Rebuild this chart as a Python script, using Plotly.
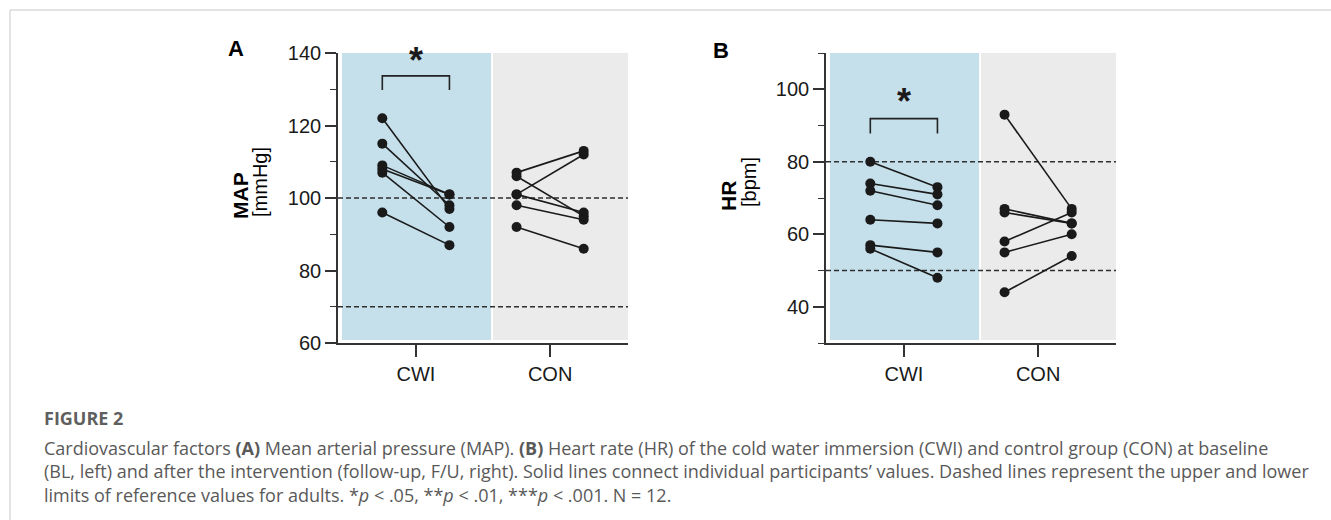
import plotly.graph_objects as go

# ---------------- data ----------------
groups = ["CWI", "CON"]
group_pos = [1, 2]
time_offsets = [-0.25, 0.25]          # BL (left), F/U (right)

map_cwi_bl = [122, 115, 109, 108, 107, 96]
map_cwi_fu = [97, 98, 101, 101, 92, 87]
map_con_bl = [107, 106, 101, 101, 98, 92]
map_con_fu = [113, 95, 112, 96, 94, 86]

hr_cwi_bl = [80, 74, 72, 64, 57, 56]
hr_cwi_fu = [73, 71, 68, 63, 55, 48]
hr_con_bl = [93, 67, 66, 58, 55, 44]
hr_con_fu = [67, 63, 63, 66, 60, 54]

map_ref = [100, 70]
hr_ref = [80, 50]

map_ticks = [60, 80, 100, 120, 140]
hr_ticks = [40, 60, 80, 100]

# ---------------- layout helpers ----------------
W, H = 1331, 520
FONT = "Liberation Sans, Arial, Helvetica, sans-serif"
CAP_FONT = "Open Sans, Noto Sans, sans-serif"
INK = "#1a1a1a"
BLUE = "#c5e0eb"
GREY = "#ebebeb"
XR = [0.42, 2.58]


def px(xp):
    return xp / W


def py(yp):
    return 1 - yp / H


fig = go.Figure()

panels = [
    dict(xa="x", ya="y", xref="x", yref="y",
         xdom=[px(338), px(628)], yrange=[60, 140], ticks=map_ticks,
         data=[(map_cwi_bl, map_cwi_fu), (map_con_bl, map_con_fu)],
         ref=map_ref, bracket=(129.8, 133.7), star=138.0,
         letter="A", letter_xy=(236, 48),
         title=("MAP", "[mmHg]"), title_x=(240, 260)),
    dict(xa="x2", ya="y2", xref="x2", yref="y2",
         xdom=[px(826), px(1116)], yrange=[30, 110], ticks=hr_ticks,
         data=[(hr_cwi_bl, hr_cwi_fu), (hr_con_bl, hr_con_fu)],
         ref=hr_ref, bracket=(87.8, 91.9), star=96.5,
         letter="B", letter_xy=(721, 51),
         title=("HR", "[bpm]"), title_x=(728, 749)),
]

shapes = []
annotations = []

for p in panels:
    y0, y1 = p["yrange"]
    ypad = (y1 - y0) * 3 / 290
    # shaded group backgrounds
    shapes.append(dict(type="rect", xref=p["xref"], yref=p["yref"],
                       x0=0.45, x1=1.56, y0=y0 + ypad, y1=y1,
                       fillcolor=BLUE, line=dict(width=0), layer="below"))
    shapes.append(dict(type="rect", xref=p["xref"], yref=p["yref"],
                       x0=1.575, x1=XR[1], y0=y0 + ypad, y1=y1,
                       fillcolor=GREY, line=dict(width=0), layer="below"))
    # reference dashed lines
    for r in p["ref"]:
        shapes.append(dict(type="line", xref=p["xref"], yref=p["yref"],
                           x0=XR[0], x1=XR[1], y0=r, y1=r,
                           line=dict(color="#2e2e2e", width=1.4, dash="5px,3px"),
                           layer="below"))
    # participant lines
    for gi, (bl, fu) in enumerate(p["data"]):
        xs = [group_pos[gi] + time_offsets[0], group_pos[gi] + time_offsets[1]]
        for a, b in zip(bl, fu):
            fig.add_trace(go.Scatter(
                x=xs, y=[a, b], mode="lines+markers",
                line=dict(color=INK, width=1.6),
                marker=dict(color=INK, size=10),
                xaxis=p["xa"], yaxis=p["ya"], showlegend=False,
                hoverinfo="skip"))
    # significance bracket (CWI)
    bx = [group_pos[0] + time_offsets[0], group_pos[0] + time_offsets[1]]
    lo, hi = p["bracket"]
    fig.add_trace(go.Scatter(
        x=[bx[0], bx[0], bx[1], bx[1]], y=[lo, hi, hi, lo], mode="lines",
        line=dict(color="#222222", width=1.6),
        xaxis=p["xa"], yaxis=p["ya"], showlegend=False, hoverinfo="skip"))
    annotations.append(dict(xref=p["xref"], yref=p["yref"], x=group_pos[0], y=p["star"],
                            text="<b>*</b>", showarrow=False,
                            font=dict(family=FONT, size=36, color=INK),
                            xanchor="center", yanchor="middle"))
    # panel letter
    lx, ly = p["letter_xy"]
    annotations.append(dict(xref="paper", yref="paper", x=px(lx), y=py(ly),
                            text="<b>%s</b>" % p["letter"], showarrow=False,
                            font=dict(family=FONT, size=22, color="#000000"),
                            xanchor="center", yanchor="middle"))
    # y-axis titles
    t1, t2 = p["title"]
    tx1, tx2 = p["title_x"]
    annotations.append(dict(xref="paper", yref="paper", x=px(tx1), y=py(196),
                            text="<b>%s</b>" % t1, showarrow=False, textangle=-90,
                            font=dict(family=FONT, size=21, color="#000000"),
                            xanchor="center", yanchor="middle"))
    annotations.append(dict(xref="paper", yref="paper", x=px(tx2), y=py(182),
                            text=t2, showarrow=False, textangle=-90,
                            font=dict(family=FONT, size=20, color="#000000"),
                            xanchor="center", yanchor="middle"))

axis_common = dict(showgrid=False, zeroline=False, showline=True,
                   linecolor="#333333", linewidth=1.6, ticks="outside",
                   tickcolor="#333333", tickwidth=1.6, automargin=False,
                   tickfont=dict(family=FONT, size=20, color=INK))

xdef = dict(axis_common, range=XR, tickvals=group_pos, ticktext=groups, ticklen=12)
ydom = [py(343), py(53)]

fig.update_layout(
    width=W, height=H, autosize=False,
    margin=dict(l=0, r=0, t=0, b=0, pad=0, autoexpand=False),
    paper_bgcolor="white", plot_bgcolor="white",
    xaxis=dict(xdef, domain=panels[0]["xdom"], anchor="y"),
    yaxis=dict(axis_common, domain=ydom, anchor="x", range=panels[0]["yrange"],
               tickvals=map_ticks, ticklen=11,
               minor=dict(dtick=10, ticks="outside", ticklen=6,
                          tickcolor="#333333", tickwidth=1.4)),
    xaxis2=dict(xdef, domain=panels[1]["xdom"], anchor="y2"),
    yaxis2=dict(axis_common, domain=ydom, anchor="x2", range=panels[1]["yrange"],
                tickvals=hr_ticks, ticklen=11,
                minor=dict(tick0=30, dtick=10, ticks="outside", ticklen=6,
                           tickcolor="#333333", tickwidth=1.4)),
    showlegend=False,
)

# card border (top & left)
shapes.append(dict(type="line", xref="paper", yref="paper",
                   x0=px(10), x1=1, y0=py(10), y1=py(10),
                   line=dict(color="#c8c8c8", width=1)))
shapes.append(dict(type="line", xref="paper", yref="paper",
                   x0=px(10), x1=px(10), y0=py(10), y1=0,
                   line=dict(color="#c8c8c8", width=1)))

# caption
cap_color = "#595959"
caption_lines = [
    "Cardiovascular factors <b>(A)</b> Mean arterial pressure (MAP). <b>(B)</b> Heart rate (HR) of the cold water immersion (CWI) and control group (CON) at baseline",
    "(BL, left) and after the intervention (follow-up, F/U, right). Solid lines connect individual participants\u2019 values. Dashed lines represent the upper and lower",
    "limits of reference values for adults. *<i>p</i> &lt; .05, **<i>p</i> &lt; .01, ***<i>p</i> &lt; .001. N = 12.",
]
annotations.append(dict(xref="paper", yref="paper", x=px(42), y=py(418),
                        text="<b>FIGURE 2</b>", showarrow=False,
                        font=dict(family=CAP_FONT, size=18, color="#5f5f5f"),
                        xanchor="left", yanchor="middle"))
annotations.append(dict(xref="paper", yref="paper", x=px(42), y=py(471),
                        text="<br>".join(caption_lines), showarrow=False, align="left",
                        font=dict(family=CAP_FONT, size=18, color=cap_color),
                        xanchor="left", yanchor="middle"))

fig.update_layout(shapes=shapes, annotations=annotations)

fig.write_html(
    "out.html",
    config={"displayModeBar": False},
    post_script=("document.documentElement.style.margin='0';"
                 "document.body.style.margin='0';"
                 "document.body.style.padding='0';"
                 "document.documentElement.style.overflow='hidden';"
                 "document.body.style.overflow='hidden';"),
)
